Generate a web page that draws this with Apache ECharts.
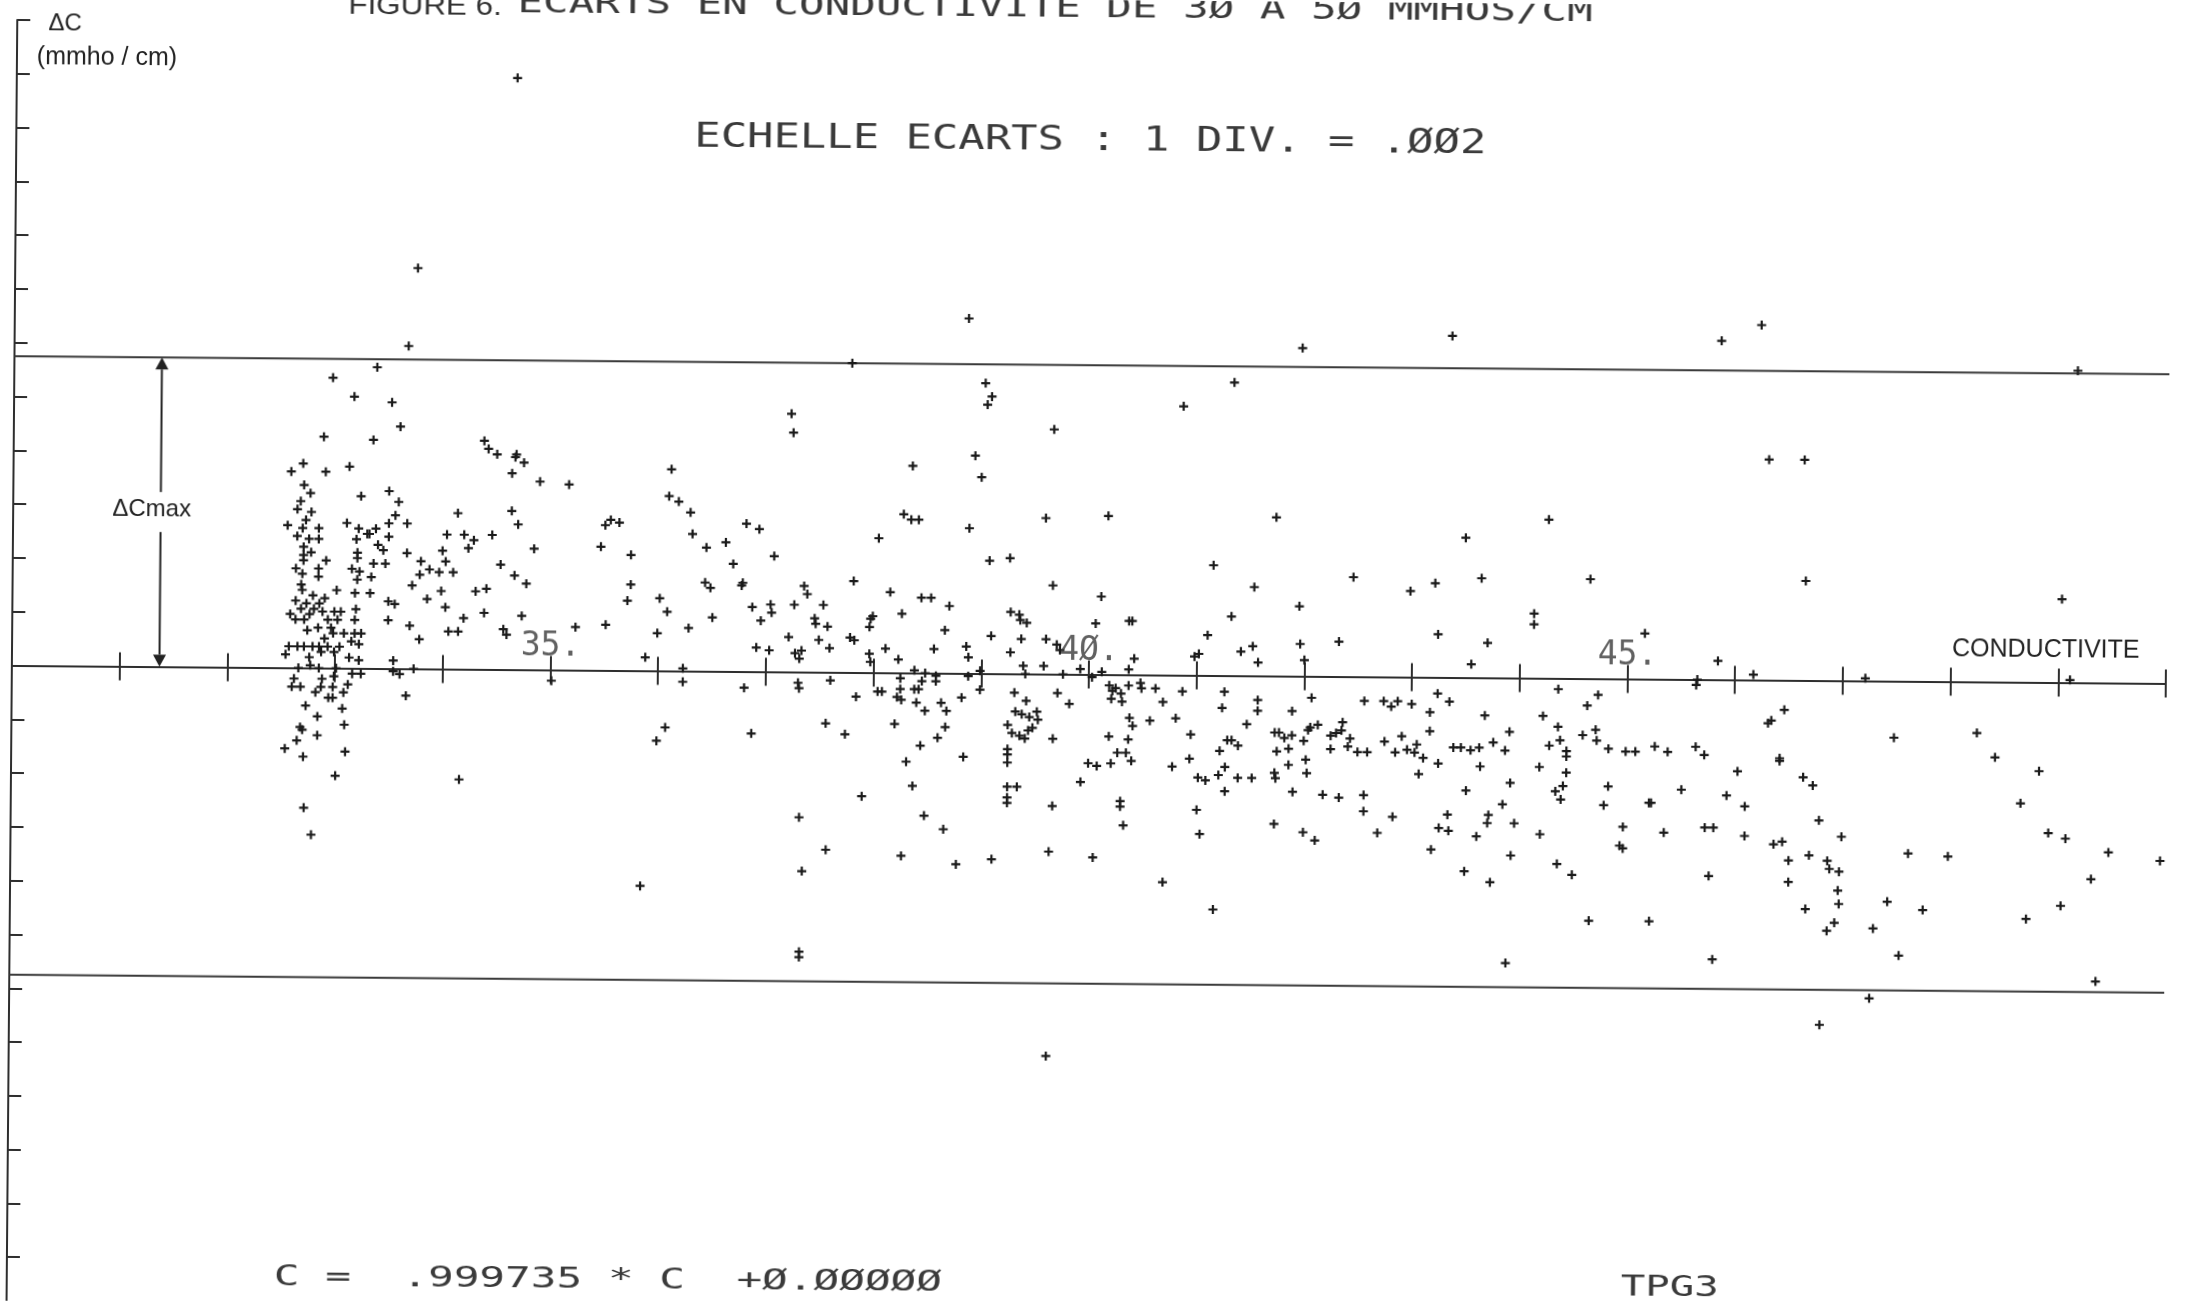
<!DOCTYPE html>
<html>
<head>
<meta charset="utf-8">
<title>Ecarts en conductivite de 30 a 50 mmhos/cm</title>
<script src="https://cdn.jsdelivr.net/npm/echarts@6/dist/echarts.min.js"></script>
<style>
  html, body { margin: 0; padding: 0; background: #fff; overflow: hidden; width: 2186px; height: 1310px; }
  /* the plotter sheet sits very slightly skewed on the page */
  #chart { width: 2186px; height: 1310px; transform: rotate(0.48deg); transform-origin: 50% 50%; background: #fff; }
</style>
</head>
<body>
<div id="chart"></div>
<script>
// Deviation limits (+/- delta C max), mmho/cm
const LIMIT = 0.0115;

// Conductivity axis labels (every 5 units)
const tickLabelValues = [35, 40, 45];
const tickLabelTexts = ['35.', '4\u00D8.', '45.'];

// Position of the delta-C-max arrow on the conductivity axis
const deltaMaxAt = [31.37];

// Measured points: [conductivity (mmho/cm), deviation (mmho/cm)]
const pointsNear33 = [
  [32.58,0.0073],[32.69,0.0076],[32.90,0.0073],[33.12,0.0075],[32.70,0.0068],[32.76,0.0065],[33.23,0.0064],[33.49,0.0066],[33.58,0.0062],[32.67,0.0062],
  [32.64,0.0059],[32.77,0.0058],[32.72,0.0055],[32.55,0.0053],[32.69,0.0052],[32.84,0.0052],[33.10,0.0054],[33.21,0.0052],[33.29,0.0050],[33.37,0.0052],
  [33.49,0.0054],[33.55,0.0057],[33.66,0.0054],[32.64,0.0049],[32.75,0.0048],[32.84,0.0048],[33.19,0.0048],[33.31,0.0050],[33.49,0.0049],[32.70,0.0045],
  [32.70,0.0042],[32.77,0.0043],[33.20,0.0043],[33.39,0.0046],[33.44,0.0044],[33.66,0.0043],[32.91,0.0040],[33.20,0.0041],[33.35,0.0039],[33.46,0.0039],
  [32.70,0.0040],[32.63,0.0037],[32.84,0.0037],[32.69,0.0035],[33.15,0.0037],[33.22,0.0036],[32.84,0.0034],[33.20,0.0033],[33.33,0.0034],[32.68,0.0031],
  [32.69,0.0029],[33.01,0.0029],[33.18,0.0028],[33.32,0.0028],[32.79,0.0027],[32.90,0.0026],[32.63,0.0025],[32.73,0.0024],[32.85,0.0024],[33.49,0.0025],
  [33.55,0.0024],[32.68,0.0022],[32.80,0.0022],[33.19,0.0022],[32.58,0.0020],[32.76,0.0020],[32.88,0.0021],[32.99,0.0021],[33.05,0.0021],[32.63,0.0018],
  [32.71,0.0018],[32.93,0.0018],[33.02,0.0018],[33.18,0.0018],[33.49,0.0018],[32.74,0.0014],[32.84,0.0015],[32.96,0.0015],[33.08,0.0013],[33.18,0.0013],
  [33.24,0.0013],[32.98,0.0013],[32.90,0.0011],[32.57,0.0008],[32.65,0.0008],[32.71,0.0008],[32.79,0.0008],[32.85,0.0008],[32.93,0.0008],[33.04,0.0008],
  [33.15,0.0010],[33.22,0.0009],[32.54,0.0005],[32.76,0.0004],[32.87,0.0006],[32.99,0.0006],[33.13,0.0004],[33.22,0.0003],[33.54,0.0003],[32.66,0.0000],
  [32.77,0.0001],[32.85,0.0000],[33.01,0.0000],[33.16,-0.0002],[33.24,-0.0002],[33.54,-0.0001],[33.60,-0.0002],[32.62,-0.0004],[32.88,-0.0004],[32.99,-0.0003],
  [32.60,-0.0007],[32.68,-0.0007],[32.87,-0.0007],[32.98,-0.0007],[33.12,-0.0006],[32.82,-0.0009],[33.08,-0.0009],[32.94,-0.0011],[32.98,-0.0011],[33.66,-0.0010],
  [32.73,-0.0014],[33.07,-0.0015],[32.84,-0.0018],[32.68,-0.0022],[33.09,-0.0021],[32.70,-0.0023],[32.84,-0.0025],[32.65,-0.0027],[32.54,-0.0030],[32.71,-0.0033],
  [33.10,-0.0031],[33.01,-0.0040],[32.72,-0.0052],[32.79,-0.0062],
  [33.51,0.0099],[33.59,0.0090],[32.88,0.0086],[33.34,0.0085],
  [33.74,0.0149],[33.66,0.0120],[33.37,0.0112],[32.96,0.0108],[33.16,0.0101]
];

const pointsNear35 = [
  [34.65,0.0220],
  [34.37,0.0085],[34.41,0.0082],[34.49,0.0080],[34.66,0.0079],[34.67,0.0080],[34.74,0.0077],[34.63,0.0073],[34.89,0.0070],[35.16,0.0069],[34.63,0.0059],
  [34.69,0.0054],[34.13,0.0058],[34.03,0.0050],[34.19,0.0050],[34.28,0.0048],[34.23,0.0045],[34.45,0.0050],[34.84,0.0045],[33.99,0.0044],[34.02,0.0040],
  [33.79,0.0040],[33.87,0.0037],[33.96,0.0036],[34.09,0.0036],[33.78,0.0035],[34.53,0.0039],[34.66,0.0035],[34.77,0.0032],[33.71,0.0031],[33.98,0.0029],
  [34.30,0.0029],[34.40,0.0030],[33.85,0.0026],[34.02,0.0023],[34.19,0.0019],[34.38,0.0021],[34.73,0.0020],[33.69,0.0016],[33.78,0.0011],[34.05,0.0014],
  [34.14,0.0014],[34.56,0.0015],[34.59,0.0013],[35.23,0.0016],[35.51,0.0017],[33.73,0.0000],[34.16,-0.0041],[35.01,-0.0004],[35.88,0.0005],[36.23,0.0001],
  [36.23,-0.0004],[35.99,0.0014],[36.08,0.0022],[36.01,0.0027],[36.28,0.0016],[36.50,0.0020],[36.87,0.0024],[36.95,0.0019],[36.91,0.0009],[36.80,-0.0006],
  [36.87,-0.0023],[35.99,-0.0026],[36.07,-0.0021],[35.71,0.0026],[35.74,0.0032],[35.74,0.0043],[35.46,0.0046],[35.50,0.0054],[35.55,0.0056],[35.63,0.0055],
  [36.11,0.0075],[36.09,0.0065],[36.18,0.0063],[36.29,0.0059],[36.31,0.0051],[36.44,0.0046],[36.62,0.0048],[36.69,0.0040],[36.43,0.0033],[36.48,0.0031],
  [36.77,0.0032],[36.78,0.0033],[36.81,0.0055],[36.93,0.0053],
  [35.85,-0.0080]
];

const pointsNear39 = [
  [37.78,0.0115],[38.86,0.0132],
  [39.02,0.0108],[39.08,0.0103],[39.04,0.0100],[41.33,0.0109],[37.22,0.0096],[37.24,0.0089],[40.86,0.0100],[39.66,0.0091],[38.93,0.0081],[38.99,0.0073],
  [38.35,0.0077],[38.27,0.0059],[38.34,0.0057],[38.41,0.0057],[38.88,0.0054],[39.59,0.0058],[40.17,0.0059],[38.04,0.0050],[37.07,0.0043],[39.07,0.0042],
  [39.26,0.0043],[41.15,0.0041],[39.66,0.0033],[40.11,0.0029],[41.53,0.0033],[37.81,0.0034],[37.35,0.0032],[37.38,0.0029],[37.26,0.0025],[37.04,0.0025],
  [37.05,0.0022],[37.53,0.0025],[37.45,0.0020],[37.46,0.0018],[37.57,0.0017],[37.21,0.0013],[37.49,0.0012],[37.59,0.0009],[37.03,0.0008],[37.27,0.0007],
  [37.33,0.0008],[37.31,0.0005],[37.78,0.0013],[37.82,0.0012],[37.97,0.0020],[37.99,0.0021],[37.96,0.0017],[38.11,0.0009],[37.96,0.0007],[37.97,0.0004],
  [38.15,0.0030],[38.26,0.0022],[38.44,0.0028],[38.53,0.0028],[38.70,0.0025],[38.66,0.0016],[38.56,0.0009],[38.86,0.0010],[38.88,0.0006],[39.09,0.0014],
  [39.27,0.0023],[39.35,0.0022],[39.36,0.0020],[39.42,0.0019],[39.37,0.0013],[39.27,0.0008],[39.60,0.0013],[39.70,0.0011],[39.73,0.0009],[39.58,0.0003],
  [39.39,0.0003],[40.06,0.0019],[40.37,0.0020],[40.40,0.0020],[40.42,0.0006],[40.37,0.0002],[39.92,0.0002],[40.12,0.0001],[39.76,0.0000],[40.03,-0.0001],
  [40.98,0.0007],[41.02,0.0008],[41.32,0.0022],[41.10,0.0015],[41.52,0.0011],[41.41,0.0009],[41.57,0.0005],[38.23,0.0005],[38.38,0.0001],[38.48,0.0000],
  [38.58,-0.0001],[38.58,-0.0003],[38.25,-0.0002],[38.25,-0.0006],[38.26,-0.0010],[38.38,-0.0006],[38.45,-0.0003],[38.42,-0.0006],[38.40,-0.0011],[38.22,-0.0009],
  [38.48,-0.0014],[38.63,-0.0011],[38.68,-0.0014],[38.82,-0.0009],[38.88,-0.0001],[38.99,0.0001],[38.99,-0.0006],[38.67,-0.0020],[38.60,-0.0024],[38.44,-0.0027],
  [38.31,-0.0033],[38.84,-0.0031],[38.37,-0.0042],[38.20,-0.0019],[38.04,-0.0007],[38.08,-0.0007],[37.84,-0.0009],[37.60,-0.0003],[37.30,-0.0004],[37.31,-0.0006],
  [37.56,-0.0019],[37.74,-0.0023],[37.90,-0.0046],[37.32,-0.0054],[37.57,-0.0066],[37.35,-0.0074],[38.27,-0.0068],[38.48,-0.0053],[38.66,-0.0058],[38.78,-0.0071],
  [39.11,-0.0069],[39.31,-0.0007],[39.42,-0.0010],[39.41,0.0000],[39.32,-0.0014],[39.38,-0.0015],[39.45,-0.0016],[39.52,-0.0014],[39.53,-0.0017],[39.25,-0.0019],
  [39.29,-0.0022],[39.36,-0.0023],[39.41,-0.0024],[39.44,-0.0021],[39.48,-0.0020],[39.25,-0.0028],[39.25,-0.0030],[39.25,-0.0033],[39.25,-0.0042],[39.34,-0.0042],
  [39.25,-0.0046],[39.25,-0.0048],[39.67,-0.0024],[39.67,-0.0049],[39.64,-0.0066],[39.71,-0.0007],[39.82,-0.0011],[40.19,-0.0004],[40.22,-0.0006],[40.25,-0.0005],
  [40.30,-0.0007],[40.21,-0.0009],[40.31,-0.0010],[40.37,-0.0004],[40.48,-0.0003],[40.49,-0.0005],[40.62,-0.0005],[40.69,-0.0010],[40.38,-0.0016],[40.41,-0.0019],
  [40.57,-0.0017],[40.81,-0.0016],[40.87,-0.0006],[40.19,-0.0023],[40.37,-0.0024],[40.35,-0.0029],[40.27,-0.0029],[40.21,-0.0033],[40.40,-0.0032],[40.00,-0.0033],
  [40.08,-0.0034],[39.93,-0.0040],[40.30,-0.0047],[40.30,-0.0049],[40.33,-0.0056],[40.05,-0.0068],[40.70,-0.0077],[41.17,-0.0087],[40.95,-0.0022],[40.94,-0.0031],
  [40.78,-0.0034],[41.01,-0.0050],[41.04,-0.0059],[41.02,-0.0038],[41.09,-0.0039],[41.22,-0.0028],[41.29,-0.0024],[41.33,-0.0024],[41.39,-0.0026],[41.21,-0.0037],
  [41.27,-0.0034],[41.39,-0.0038],[41.52,-0.0038],[41.27,-0.0043],[41.26,-0.0006],[41.24,-0.0012],[41.47,-0.0018],[41.57,-0.0009],[41.57,-0.0013],
  [37.33,-0.0104],[37.33,-0.0106],[39.63,-0.0142]
];

const pointsNear43 = [
  [41.96,0.0122],[43.35,0.0127],[45.85,0.0126],[46.22,0.0132],[49.16,0.0116],[46.30,0.0082],[46.63,0.0082],
  [41.73,0.0059],[44.26,0.0059],[43.49,0.0052],[42.45,0.0037],[43.64,0.0037],[44.65,0.0037],[42.98,0.0032],[43.21,0.0035],[41.95,0.0026],[44.13,0.0024],
  [44.13,0.0020],[41.96,0.0012],[42.32,0.0013],[43.24,0.0016],[43.70,0.0013],[45.16,0.0017],[42.00,0.0006],[43.55,0.0005],[45.84,0.0007],[45.65,0.0000],
  [45.64,-0.0002],[46.17,0.0002],[44.36,-0.0004],[44.73,-0.0006],[44.63,-0.0010],[42.07,-0.0008],[41.89,-0.0013],[41.73,-0.0021],[41.77,-0.0021],[41.82,-0.0023],
  [41.89,-0.0022],[42.04,-0.0020],[42.06,-0.0019],[42.13,-0.0018],[42.00,-0.0024],[41.75,-0.0028],[41.86,-0.0027],[41.86,-0.0033],[42.02,-0.0031],[42.03,-0.0036],
  [41.73,-0.0036],[41.74,-0.0038],[41.90,-0.0043],[42.18,-0.0044],[42.33,-0.0045],[41.73,-0.0055],[42.00,-0.0058],[42.11,-0.0061],[42.25,-0.0027],[42.25,-0.0022],
  [42.30,-0.0021],[42.35,-0.0020],[42.36,-0.0017],[42.43,-0.0023],[42.41,-0.0026],[42.50,-0.0028],[42.59,-0.0028],[42.56,-0.0009],[42.56,-0.0044],[42.56,-0.0050],
  [42.74,-0.0009],[42.81,-0.0011],[42.87,-0.0009],[43.00,-0.0010],[42.75,-0.0024],[42.91,-0.0022],[42.85,-0.0028],[42.96,-0.0027],[43.05,-0.0025],[43.03,-0.0028],
  [43.11,-0.0030],[43.07,-0.0036],[42.83,-0.0052],[42.69,-0.0058],[43.17,-0.0013],[43.17,-0.0020],[43.24,-0.0006],[43.35,-0.0009],[43.25,-0.0032],[43.39,-0.0026],
  [43.46,-0.0026],[43.55,-0.0027],[43.63,-0.0026],[43.64,-0.0033],[43.68,-0.0014],[43.76,-0.0024],[43.87,-0.0027],[43.91,-0.0020],[43.51,-0.0042],[43.34,-0.0051],
  [43.26,-0.0056],[43.35,-0.0057],[43.19,-0.0064],[43.72,-0.0051],[43.71,-0.0054],[43.85,-0.0047],[43.96,-0.0054],[43.61,-0.0059],[43.92,-0.0039],[43.93,-0.0066],
  [43.50,-0.0072],[43.74,-0.0076],[44.19,-0.0033],[44.20,-0.0058],[44.22,-0.0014],[44.28,-0.0025],[44.36,-0.0018],[44.38,-0.0023],[44.44,-0.0027],[44.44,-0.0029],
  [44.44,-0.0035],[44.34,-0.0042],[44.41,-0.0040],[44.39,-0.0045],[44.36,-0.0069],[44.50,-0.0073],[44.59,-0.0021],[44.71,-0.0019],[44.72,-0.0023],[44.83,-0.0026],
  [44.83,-0.0040],[44.79,-0.0047],[44.99,-0.0027],[45.08,-0.0027],[45.26,-0.0025],[45.38,-0.0027],[45.64,-0.0025],[45.72,-0.0028],[44.97,-0.0055],[44.94,-0.0062],
  [44.97,-0.0063],[45.21,-0.0046],[45.23,-0.0046],[45.35,-0.0057],[45.51,-0.0041],[45.73,-0.0055],[45.81,-0.0055],[45.77,-0.0073],[45.93,-0.0043],[46.03,-0.0034],
  [46.10,-0.0047],[46.10,-0.0058],[44.66,-0.0090],[45.22,-0.0090],
  [43.89,-0.0106],[45.81,-0.0104]
];

const pointsNear48 = [
  [46.65,0.0037],[49.03,0.0031],[47.21,0.0001],[49.11,0.0001],[46.46,-0.0011],[46.31,-0.0016],[46.34,-0.0015],[46.42,-0.0029],[46.42,-0.0030],[47.48,-0.0021],
  [48.25,-0.0019],[48.42,-0.0028],[48.83,-0.0033],[48.66,-0.0045],[48.92,-0.0056],[49.08,-0.0058],[49.48,-0.0063],[49.96,-0.0066],[49.32,-0.0073],[49.04,-0.0083],
  [48.72,-0.0088],[49.37,-0.0111],[46.64,-0.0036],[46.73,-0.0039],[46.79,-0.0052],[47.00,-0.0058],[46.37,-0.0061],[46.45,-0.0060],[46.51,-0.0067],[46.51,-0.0075],
  [46.70,-0.0065],[46.87,-0.0067],[46.89,-0.0070],[46.98,-0.0071],[46.97,-0.0078],[46.98,-0.0083],[46.67,-0.0085],[46.94,-0.0090],[46.87,-0.0093],[47.62,-0.0064],
  [47.99,-0.0065],[47.43,-0.0082],[47.76,-0.0085],[47.30,-0.0092],[47.54,-0.0102],[47.27,-0.0118],[46.81,-0.0128]
];

const allPoints = [].concat(pointsNear33, pointsNear35, pointsNear39, pointsNear43, pointsNear48);

const INK = '#1a1a1a';
const LINE = '#2e2e2e';
const TEXT_INK = '#3a3a3a';
const PLOT_FONT = '"DejaVu Sans Mono", "Liberation Mono", monospace';
const SANS = '"Liberation Sans", Arial, Helvetica, sans-serif';
const PLUS = 'path://M3.4,0H5.6V3.4H9V5.6H5.6V9H3.4V5.6H0V3.4H3.4Z';
const MONO_ADV = 0.602; // advance width of the monospace face, in em

// stretch a monospace string to the plotter's character pitch
function plotterText(str, left, midY, size, pitch) {
  return {
    type: 'text', x: left, y: midY, scaleX: pitch / (size * MONO_ADV), z: 10,
    style: { text: str, fontFamily: PLOT_FONT, fontSize: size, fill: TEXT_INK, align: 'left', verticalAlign: 'middle' }
  };
}

const axisLineStyle = { color: LINE, width: 2 };

const option = {
  animation: false,
  backgroundColor: '#fff',
  // the deviation scale runs a little past the bottom of the sheet
  grid: { left: 12, top: 29, width: 2154, height: 1291, outerBoundsMode: 'none', containLabel: false },
  xAxis: [
    {
      type: 'value', min: 30, max: 50, interval: 1, position: 'bottom',
      axisLine: { onZero: true, onZeroAxisIndex: 0, lineStyle: axisLineStyle },
      axisTick: { inside: false, length: 14, lineStyle: axisLineStyle },
      axisLabel: { show: false }, splitLine: { show: false }
    },
    {
      type: 'value', min: 30, max: 50, interval: 1, position: 'top',
      axisLine: { onZero: true, onZeroAxisIndex: 0, lineStyle: axisLineStyle },
      axisTick: { inside: false, length: 14, lineStyle: axisLineStyle },
      axisLabel: { show: false }, splitLine: { show: false }
    }
  ],
  yAxis: {
    type: 'value', min: -0.024, max: 0.024, interval: 0.002, position: 'left',
    axisLine: { onZero: false, lineStyle: axisLineStyle },
    axisTick: { inside: true, length: 13, lineStyle: axisLineStyle },
    axisLabel: { show: false }, splitLine: { show: false }
  },
  series: [
    {
      type: 'line', name: 'limite haute', data: [[30, LIMIT], [50.3, LIMIT]],
      showSymbol: false, symbol: 'none', clip: false, silent: true,
      lineStyle: { color: '#3a3a3a', width: 2 }, z: 1
    },
    {
      type: 'line', name: 'limite basse', data: [[30, -LIMIT], [50.3, -LIMIT]],
      showSymbol: false, symbol: 'none', clip: false, silent: true,
      lineStyle: { color: '#3a3a3a', width: 2 }, z: 1
    },
    {
      type: 'scatter', name: 'ecarts', data: allPoints,
      symbol: PLUS, symbolSize: 9,
      itemStyle: { color: INK, opacity: 1 }, z: 3
    },
    {
      // conductivity labels written on the zero line
      type: 'scatter', name: 'graduations', silent: true,
      data: tickLabelValues.map(function (v) { return [v, 0]; }),
      symbol: 'circle', symbolSize: 0, z: 5,
      label: {
        show: true, position: 'top', distance: 7, offset: [2, 0],
        fontFamily: PLOT_FONT, fontSize: 33, color: TEXT_INK,
        formatter: function (p) { return tickLabelTexts[p.dataIndex]; }
      },
      labelLayout: { hideOverlap: false }
    },
    {
      type: 'custom', name: 'delta C max', coordinateSystem: 'cartesian2d', clip: false,
      data: deltaMaxAt.map(function (c) { return [c, LIMIT, 0]; }),
      renderItem: function (params, api) {
        const top = api.coord([api.value(0), api.value(1)]);
        const bot = api.coord([api.value(0), api.value(2)]);
        const x = top[0];
        const mid = (top[1] + bot[1]) / 2;
        const head = 12, half = 6.5, gap = 20;
        const stroke = { stroke: '#222', lineWidth: 2 };
        return {
          type: 'group',
          children: [
            { type: 'line', shape: { x1: x, y1: top[1] + head, x2: x, y2: mid - gap }, style: stroke },
            { type: 'line', shape: { x1: x, y1: mid + gap, x2: x, y2: bot[1] - head }, style: stroke },
            { type: 'polygon', shape: { points: [[x, top[1]], [x - half, top[1] + head], [x + half, top[1] + head]] }, style: { fill: '#222' } },
            { type: 'polygon', shape: { points: [[x, bot[1]], [x - half, bot[1] - head], [x + half, bot[1] - head]] }, style: { fill: '#222' } },
            {
              type: 'text', x: x - 9, y: mid - 2,
              style: {
                text: '{d|\u0394C}{m|max}', align: 'center', verticalAlign: 'middle',
                rich: {
                  d: { fontFamily: SANS, fontSize: 24, fill: '#222' },
                  m: { fontFamily: SANS, fontSize: 24, fill: '#222' }
                }
              }
            }
          ]
        };
      },
      z: 4
    }
  ],
  graphic: [
    { type: 'text', x: 343, y: 12, scaleX: 1.12, z: 10,
      style: { text: 'FIGURE 6.', fontFamily: SANS, fontSize: 28, fill: '#333', align: 'left', verticalAlign: 'middle' } },
    plotterText('ECARTS EN CONDUCTIVITE DE 3\u00D8 A 5\u00D8 MMHOS/CM', 512, 9, 31, 25.6),
    plotterText('ECHELLE ECARTS : 1 DIV. = .\u00D8\u00D82', 690, 141, 33, 26.4),
    plotterText('C =  .999735 * C  +\u00D8.\u00D8\u00D8\u00D8\u00D8\u00D8', 279, 1284, 29, 25.7),
    plotterText('TPG3', 1626, 1283, 29, 24.5),
    { type: 'text', x: 1952, y: 642, z: 10,
      style: { text: 'CONDUCTIVITE', fontFamily: SANS, fontSize: 25, fill: '#222', align: 'left', verticalAlign: 'middle' } },
    { type: 'text', x: 60, y: 32, z: 10,
      style: { text: '\u0394C', fontFamily: SANS, fontSize: 24, fill: '#222', align: 'center', verticalAlign: 'middle' } },
    { type: 'text', x: 102, y: 66, z: 10,
      style: { text: '(mmho / cm)', fontFamily: SANS, fontSize: 25, fill: '#222', align: 'center', verticalAlign: 'middle' } }
  ]
};

const chart = echarts.init(document.getElementById('chart'), null, { renderer: 'canvas' });
chart.setOption(option);
</script>
</body>
</html>
